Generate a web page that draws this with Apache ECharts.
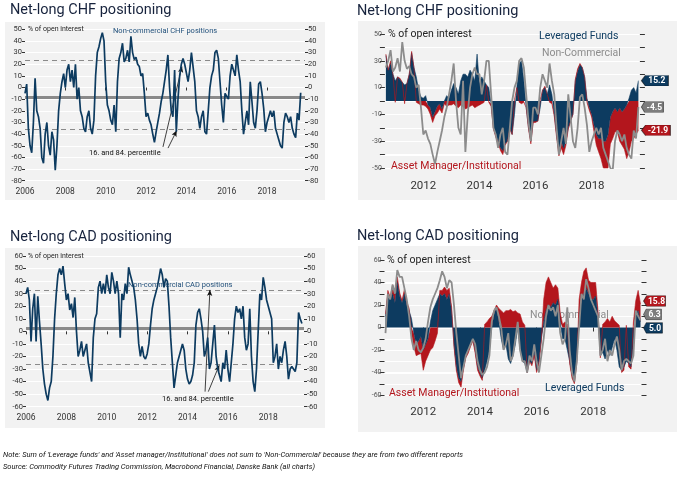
<!DOCTYPE html>
<html><head><meta charset="utf-8">
<script src="https://cdn.jsdelivr.net/npm/echarts@6.0.0/dist/echarts.min.js"></script>
<style>html,body{margin:0;padding:0;background:#fff;}#c{width:686px;height:479px;}</style>
</head><body><div id="c"></div>
<script>
// ---------------- DATA (monthly, % of open interest) ----------------
// Non-commercial CHF net positions, Jan 2006 .. Sep 2019
const chfNonComm = [
 -5, 3, -35, -50, -56, -30, 8, -20, -25, -35, -60, -65,
 -40, -30, -50, -58, -38, -45, -71, -50, -20, -5, 5, 12,
 0, 15, 20, 5, 15, 0, 20, -10, 0, -20, -25, -35,
 -38, -25, -20, -35, -40, -28, 10, 30, 35, 42, 47, 40,
 5, -15, -20, -28, -32, -15, -38, 5, 25, 30, 38, 22,
 25, 32, 22, 44, 30, 24, 26, 20, 18, 10, 12, -5,
 -25, -22, -28, -32, -40, -47, -38, -30, -22, -12, -5, 5,
 15, 28, 0, -20, -25, 15, -38, -10, 10, 20, 25, 20,
 20, 5, 15, 30, 30, 5, -20, -25, -35, -25, -20, -38,
 -40, -20, 0, 10, 15, 30, 32, 25, 5, -15, -30, -5,
 -5, -10, 10, 20, 15, 10, 28, 15, 5, -20, -40, -30,
 -20, -32, 5, -12, -30, -35, -20, 3, 5, -5, -18, -38,
 -30, -25, -20, -25, -20, -35, -40, -45, -50, -52, -30, -22,
 -25, -30, -25, -35, -40, -43, -22, -28, -4.5
];
// Non-commercial CAD net positions, Jan 2006 .. Sep 2019
const cadNonComm = [
 30, 35, 25, -8, 18, 30, -8, 28, 8, -10, -30, -42,
 -50, -55, -45, -40, -20, 10, 30, 45, 50, 45, 52, 38,
 25, 30, 17, 22, 11, 27, 0, -20, -15, -8, -20, -15,
 -10, -25, -25, -40, -5, 10, 14, 35, 40, 30, 38, 30,
 45, 35, 30, 47, 40, 30, 40, 30, -5, 30, 25, 38,
 30, 51, 45, 45, 35, 25, 10, -10, -20, -12, -20, -22,
 -18, -10, 5, 18, 25, 30, 35, 42, 50, 45, 35, 42,
 40, 20, -5, -25, -45, -35, -25, -20, -15, -10, -15, -30,
 -38, -42, -40, -35, -25, 5, 15, 18, 10, 0, -20, -15,
 -5, -30, -25, -10, 5, -20, -30, -30, -40, -25, -30, -15,
 -30, -40, -25, -10, 10, 20, 15, 18, 10, 20, -5, -15,
 -10, 18, -20, -40, -48, -30, 0, 30, 25, 43, 35, 25,
 20, 15, 10, -25, -20, -10, -30, -20, -25, -15, -8, -20,
 -38, -30, -28, -30, -32, -25, 15, 10, 6.3
];
// Right-hand charts start Sep 2010 (month index 56)
const RIGHT_START_INDEX = 56;
const chfLevFunds = [
 34, 23, 28, 20, 15, 18, 16, 14, 12, 13, 20, 36, 25, 18, 8, 3,
 2, 4, -3, -5, -12, -8, -4, -2, -6, 0, 4, 2,
 8, 13, 10, 5, 15, 20, 20, 18, 23, 20, 15, 35,
 13, 18, 15, 12, 10, -2, -20, -25, -30, -35, -37, -32,
 -30, -20, -25, -10, 10, 28, 30, 15, -5, -20, -30, -15,
 -15, -15, -5, 8, 10, 5, 12, 5, -10, -25, -38, -30,
 -35, -30, -20, -15, -10, 15, 22, 27, 25, 18, 2, -5,
 -10, -18, -25, -28, -28, -30, -30, -25, -12, -8, -5, -8,
 -5, -8, -6, -3, 2, 8, 10, 6, 15.2
];
const chfAssetMgr = [
 1, 0, 2, 0, -1, 0, 1, 0, -2, 0, 0, 1, 0, -1, -2, -3,
 -3, -4, -3, -5, -4, -3, -5, -4, -3, -2, -4, -3,
 -3, -2, -4, -5, -3, -4, -6, -5, -4, -3, -5, -4,
 -3, -2, -1, 0, -1, -2, -1, -2, -1, -2, -3, -1,
 0, -1, 0, 1, 0, -1, -2, -1, 0, -1, -2, -1,
 -1, 0, 1, 0, 1, 0, -1, -2, -1, -2, -3, -5,
 -5, -3, -1, 0, 0, 1, 2, 1, 0, 0, -1, -2,
 -2, -5, -8, -10, -15, -20, -22, -25, -20, -20, -18, -15,
 -25, -25, -30, -40, -38, -30, -28, -25, -21.9
];
const cadLevFunds = [
 10, 30, 25, 30, 22, 40, 28, 22, 30, 20, 15, 8, -5, -15, -12, -8,
 -20, -15, -10, 5, 15, 20, 25, 30, 28, 30, 25, 30,
 15, -15, -35, -45, -48, -35, -25, -20, -15, -10, -20, -35,
 -40, -45, -38, -30, -20, 0, 12, 18, 5, -10, -20, -15,
 -28, -32, -25, -15, 0, -20, -30, -32, -40, -30, -32, -22,
 -38, -30, -10, 5, 15, 20, 18, 22, 20, 25, 5, -10,
 -10, -20, -30, -42, -48, -30, 5, 25, 30, 35, 30, 25,
 25, 28, 10, -25, -22, -28, -20, -25, -18, -10, -20, -35,
 -38, -35, -30, -32, -35, -15, 12, 15, 5.0
];
const cadAssetMgr = [
 2, 3, 2, 8, 10, 5, 3, 2, 4, 3, 2, -5, -12, -10, -12, -15,
 -18, -15, -15, -20, -18, -12, -5, 3, 5, 6, 8, 5,
 3, -2, -3, -4, -5, -3, -2, -3, -2, -2, -3, -3,
 -3, -2, 3, 5, 8, 10, 3, 2, 12, 15, 13, 15,
 15, 16, 14, 15, 13, 12, 5, 2, 0, 0, -2, -3,
 -2, -2, -2, 20, 25, 25, 22, 13, 18, 10, 8, 3,
 5, 3, -2, -3, -2, -2, 20, 15, 20, 18, 12, 15,
 15, 12, 5, -2, 3, 5, 8, 5, 10, 6, 4, 2,
 -2, -3, 2, -3, -2, 5, 12, 18, 15.8
];
// mean, 84th and 16th percentile of the non-commercial series
const chfRefLines = [-8.7, 23, -36];
const cadRefLines = [2.4, 32.5, -26.2];
const leftYearLabels = [2006, 2008, 2010, 2012, 2014, 2016, 2018];
const rightYearLabels = [2012, 2014, 2016, 2018];

// ---------------- CHART ----------------
const FONT = 'Roboto, "Liberation Sans", sans-serif';
const NAVY = '#0d3b60', RED = '#b3161d', GREY = '#8c8c8c', TITLE = '#17233d';
const leftDates = chfNonComm.map((_, i) => 2006 + i / 12);
const monthCat = i => (2006 + Math.floor(i / 12)) + '-' + String(i % 12 + 1).padStart(2, '0');
const rightCats = chfLevFunds.map((_, k) => monthCat(RIGHT_START_INDEX + k));
const pairs = (xs, ys) => ys.map((v, i) => [xs[i], v]);
const isLabelCat = v => v.slice(5) === '01' && rightYearLabels.indexOf(+v.slice(0, 4)) >= 0;

function xLeft(gi, maxY) {
  return {
    type: 'value', gridIndex: gi, min: 2006, max: maxY, offset: 3,
    axisLine: { show: false }, splitLine: { show: false },
    axisTick: { show: true, length: 3, customValues: leftYearLabels, lineStyle: { color: '#333', width: 1 } },
    axisLabel: { customValues: leftYearLabels, formatter: v => String(v),
      fontSize: 8.5, color: '#333', margin: 4, fontFamily: FONT, hideOverlap: false }
  };
}
function xRight(gi, margin) {
  return {
    type: 'category', gridIndex: gi, data: rightCats, boundaryGap: false, offset: 6,
    axisLine: { show: false }, splitLine: { show: false },
    axisTick: { show: true, length: 4, interval: (i, v) => isLabelCat(v), lineStyle: { color: '#333' } },
    axisLabel: { interval: (i, v) => isLabelCat(v), formatter: v => v.slice(0, 4),
      fontSize: 11.5, color: '#333', margin: margin, fontFamily: FONT, hideOverlap: false }
  };
}
function yL(gi, min, max, pos) {
  return {
    type: 'value', gridIndex: gi, min: min, max: max, interval: 10, position: pos,
    axisLine: { show: false },
    axisTick: { show: true, length: 3, lineStyle: { color: '#333' } },
    splitLine: { show: pos === 'left', lineStyle: { color: '#ffffff', width: 1 } },
    axisLabel: { fontSize: 7.5, color: '#333', margin: 3, fontFamily: FONT }
  };
}
function yR(gi, min, max, pos, showLab, offset) {
  return {
    type: 'value', gridIndex: gi, min: min, max: max, interval: 10, position: pos, offset: offset,
    axisLine: { show: false },
    axisTick: { show: true, length: 5, lineStyle: { color: '#333' } },
    splitLine: { show: pos === 'left', lineStyle: { color: '#ffffff', width: 1 } },
    axisLabel: { show: showLab, fontSize: 7, color: '#555', margin: 3, fontFamily: FONT,
      formatter: v => ((v - min) % 20 === 0 ? String(v) : '') }
  };
}
function refMarkLine(ref, arrows) {
  const data = [
    { yAxis: ref[0], lineStyle: { type: 'solid', width: 3, color: '#8a8a8a' } },
    { yAxis: ref[1], lineStyle: { type: [5, 4], width: 1.2, color: '#8a8a8a' } },
    { yAxis: ref[2], lineStyle: { type: [5, 4], width: 1.2, color: '#8a8a8a' } }
  ];
  arrows.forEach(a => data.push([
    { coord: [a[0], a[1]], symbol: 'none', lineStyle: { type: 'solid', width: 0.8, color: '#111' } },
    { coord: [a[2], a[3]], symbol: 'arrow', symbolSize: [4, 6] }
  ]));
  return { silent: true, symbol: 'none', label: { show: false }, animation: false, data: data, z: 3 };
}
const BOX = 'path://M0,5L4,0L28,0L28,10L4,10Z';
function endBox(x, y, txt, color, w, dy) {
  return {
    silent: true, animation: false, z: 10,
    data: [{ coord: [x, y], value: txt, symbol: BOX, symbolSize: [w, 10.5], symbolKeepAspect: false,
      symbolOffset: [3 + w / 2, dy],
      itemStyle: { color: color, borderColor: 'rgba(0,0,0,0.55)', borderWidth: 0.7 },
      label: { show: true, position: 'inside', offset: [2, 0.5], color: '#fff', fontSize: 8.5,
        fontWeight: 'bold', fontFamily: FONT, formatter: p => Number(p.value).toFixed(1) } }]
  };
}
const lastCat = rightCats[rightCats.length - 1];
const last = a => a[a.length - 1];
const stackTop = (b, r) => (Math.sign(b) === Math.sign(r) ? b + r : r);

const chfGrey = chfNonComm.slice(RIGHT_START_INDEX);
const cadGrey = cadNonComm.slice(RIGHT_START_INDEX);

function areaSeries(xi, yi, stack, vals, color, mp) {
  return {
    type: 'line', xAxisIndex: xi, yAxisIndex: yi, stack: stack, stackStrategy: 'samesign',
    data: vals, showSymbol: false, symbol: 'none',
    lineStyle: { color: color, width: 0.6 }, areaStyle: { color: color, opacity: 1 },
    itemStyle: { color: color }, markPoint: mp, z: 2
  };
}
function text(x, y, t, size, color, extra) {
  return Object.assign({ type: 'text', x: x, y: y, z: 5, silent: true,
    style: { text: t, fontSize: size, fontFamily: FONT, fill: color, textVerticalAlign: 'middle' } }, extra || {});
}
function itext(x, y, t) {
  return { type: 'text', x: x, y: y, z: 5, silent: true,
    style: { text: t, fontSize: 7.5, fontStyle: 'italic', fontFamily: FONT, fill: '#111', textVerticalAlign: 'middle' } };
}
function bg(x, y, w, h) {
  return { type: 'rect', shape: { x: x, y: y, width: w, height: h }, style: { fill: '#f2f2f2' }, z: -10, silent: true };
}
// white horizontal rules of the right-hand panels reach the left tick marks
function rules(x1, x2, yTop, yBottom, n) {
  const out = [];
  for (let i = 0; i <= n; i++) {
    const y = Math.round(yTop + (yBottom - yTop) * i / n) + 0.5;
    out.push({ type: 'line', shape: { x1: x1, y1: y, x2: x2, y2: y }, style: { stroke: '#fff', lineWidth: 1 }, z: -5, silent: true });
  }
  return out;
}

const chart = echarts.init(document.getElementById('c'));
chart.setOption({
  animation: false,
  backgroundColor: '#ffffff',
  textStyle: { fontFamily: FONT },
  grid: [
    { left: 25, top: 29.3, width: 280, height: 151.4 },
    { left: 385.9, top: 34, width: 252.5, height: 134 },
    { left: 26, top: 256, width: 278, height: 150.7 },
    { left: 385.5, top: 260, width: 255, height: 135 }
  ],
  xAxis: [ xLeft(0, 2019.88), xRight(1, 6), xLeft(2, 2019.77), xRight(3, 5) ],
  yAxis: [
    yL(0, -80, 50, 'left'), yL(0, -80, 50, 'right'),
    yR(1, -50, 50, 'left', true, 1), yR(1, -50, 50, 'right', false, 1.5),
    yL(2, -60, 60, 'left'), yL(2, -60, 60, 'right'),
    yR(3, -60, 60, 'left', true, 1), yR(3, -60, 60, 'right', false, 1)
  ],
  series: [
    { type: 'line', xAxisIndex: 0, yAxisIndex: 0, data: pairs(leftDates, chfNonComm), showSymbol: false, symbol: 'none',
      lineStyle: { color: NAVY, width: 1.7 }, z: 4,
      markLine: refMarkLine(chfRefLines, [[2012.84, -51, 2013.78, 18], [2013.09, -52, 2013.52, -37]]) },
    areaSeries(1, 2, 'chf', chfLevFunds, NAVY, endBox(lastCat, last(chfLevFunds), last(chfLevFunds), NAVY, 27, 0)),
    areaSeries(1, 2, 'chf', chfAssetMgr, RED, endBox(lastCat, stackTop(last(chfLevFunds), last(chfAssetMgr)), last(chfAssetMgr), RED, 29, 0)),
    { type: 'line', xAxisIndex: 1, yAxisIndex: 2, data: chfGrey, showSymbol: false, symbol: 'none',
      lineStyle: { color: GREY, width: 1.8 }, z: 4,
      markPoint: endBox(lastCat, last(chfGrey), last(chfGrey), '#7d7d7d', 22, 0) },
    { type: 'line', xAxisIndex: 2, yAxisIndex: 4, data: pairs(leftDates, cadNonComm), showSymbol: false, symbol: 'none',
      lineStyle: { color: NAVY, width: 1.7 }, z: 4,
      markLine: refMarkLine(cadRefLines, [[2014.87, -48, 2015.11, 33], [2015.03, -48, 2015.57, -27]]) },
    areaSeries(3, 6, 'cad', cadLevFunds, NAVY, endBox(lastCat, last(cadLevFunds), last(cadLevFunds), NAVY, 19, 6)),
    areaSeries(3, 6, 'cad', cadAssetMgr, RED, endBox(lastCat, stackTop(last(cadLevFunds), last(cadAssetMgr)), last(cadAssetMgr), RED, 22, -3)),
    { type: 'line', xAxisIndex: 3, yAxisIndex: 6, data: cadGrey, showSymbol: false, symbol: 'none',
      lineStyle: { color: GREY, width: 1.8 }, z: 4,
      markPoint: endBox(lastCat, last(cadGrey), last(cadGrey), '#7d7d7d', 18, -6) }
  ],
  graphic: [
    bg(5, 22, 320, 178), bg(358, 21, 319, 179), bg(5, 248, 320, 180), bg(358, 246, 319, 186)
  ].concat(rules(381, 640, 34, 168, 10), rules(384, 642, 260, 395, 12), [
    text(10, 10, 'Net-long CHF positioning', 14.5, TITLE),
    text(357, 11, 'Net-long CHF positioning', 14.5, TITLE),
    text(10, 237, 'Net-long CAD positioning', 14.5, TITLE),
    text(357, 236, 'Net-long CAD positioning', 14.5, TITLE),
    text(28, 29.5, '% of open interest', 7, '#222'),
    text(113, 31, 'Non-commercial CHF positions', 7.5, '#1f4e79'),
    text(89, 153, '16. and 84. percentile', 7.5, '#111'),
    text(28, 256.5, '% of open interest', 7, '#222'),
    text(128, 285, 'Non-commercial CAD positions', 7.5, '#1f4e79', { z: 1 }),
    text(162, 399, '16. and 84. percentile', 7.5, '#111'),
    text(388, 34, '% of open interest', 10.5, '#222'),
    text(539, 36, 'Leveraged Funds', 10.5, NAVY),
    text(542, 53, 'Non-Commercial', 10.5, GREY),
    text(391, 166, 'Asset Manager/Institutional', 10.5, RED),
    text(387, 260.5, '% of open interest', 10.5, '#222'),
    text(530, 315, 'Non-Commercial', 10.5, GREY, { z: 1 }),
    text(389, 393, 'Asset Manager/Institutional', 10.5, RED),
    text(545, 388, 'Leveraged Funds', 10.5, NAVY),
    itext(3, 455, "Note: Sum of 'Leverage funds' and 'Asset manager/Institutional' does not sum to 'Non-Commercial' because they are from two different reports"),
    itext(3, 467, 'Source: Commodity Futures Trading Commission, Macrobond Financial, Danske Bank (all charts)')
  ])
});
</script></body></html>
